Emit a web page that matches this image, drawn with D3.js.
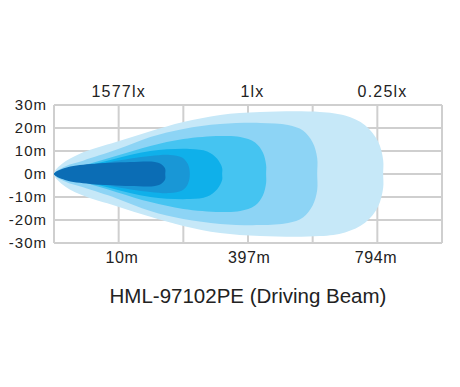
<!DOCTYPE html>
<meta charset="utf-8">
<script src="https://cdn.jsdelivr.net/npm/d3@7"></script>
<style>
body {margin: 0; background: #fff;}
svg text {font-family: "Liberation Sans", Arial, sans-serif; fill: #222;}
.grid line {stroke: #cfcfcf; stroke-width: 2;}
.ytick {font-size: 15px; text-anchor: end; letter-spacing: 1px;}
.lux {font-size: 16px; text-anchor: middle; letter-spacing: 1.2px;}
.dist {font-size: 16px; text-anchor: middle; letter-spacing: 0.6px;}
.title {font-size: 20.5px; text-anchor: middle;}
</style>
<div id="vis"></div>
<script>

// tick labels
var yTicks = [30, 20, 10, 0, -10, -20, -30];
var luxLabels = ["1577lx", "1lx", "0.25lx"];
var luxPos = [1, 3.07, 5.08];
var distLabels = ["10m", "397m", "794m"];
var distPos = [1.05, 3.02, 4.98];

// beam contours, upper half: [grid column, metres], outermost first
var beam025 = [[0,0],[0.12,4.3],[0.40,8.8],[0.97,14.0],[1.49,18.6],[2.0,22.6],[2.57,25.7],[3.19,27.0],[4.11,27.0],[4.5,25.4],[4.81,21.2],[5.01,14.2],[5.09,6.1],[5.09,0]];
var beam1 = [[0,0],[0.17,3.3],[0.45,5.8],[0.97,10.6],[1.49,16.1],[2.0,19.6],[2.57,21.7],[3.19,22.2],[3.62,21.3],[3.85,18.9],[4.0,13.7],[4.07,7.0],[4.07,0]];
var beam3 = [[0,0],[0.40,3.2],[0.97,7.9],[1.49,12.2],[2.0,15.2],[2.57,16.5],[2.88,16.1],[3.11,13.7],[3.23,9.3],[3.28,3.9],[3.28,0]];
var beam10 = [[0,0],[0.40,2.7],[0.87,6.1],[1.49,10.0],[2.1,10.9],[2.37,9.8],[2.52,6.7],[2.6,2.6],[2.6,0]];
var beam50 = [[0,0],[0.40,2.3],[0.87,5.2],[1.49,7.8],[1.79,8.3],[1.98,7.2],[2.07,4.3],[2.1,0]];
var beam1577 = [[0,0],[0.17,2.6],[0.56,4.3],[1.18,5.2],[1.56,5.2],[1.67,4.0],[1.72,2.2],[1.72,0]];

var beams = [beam025, beam1, beam3, beam10, beam50, beam1577];
var colors = ["#c6e8f8", "#8dd4f5", "#45c4f1", "#0fb0ea", "#1997d6", "#0b6db5"];

var w = 460, h = 387;
var x = d3.scaleLinear().domain([0, 6]).range([54, 442]);
var y = d3.scaleLinear().domain([-30, 30]).range([243, 105]);

var svg = d3.select("#vis").append("svg")
    .attr("width", w)
    .attr("height", h);

// grid
var grid = svg.append("g").attr("class", "grid");
grid.selectAll(".v")
    .data(d3.range(0, 7))
  .enter().append("line")
    .attr("x1", function(d) { return x(d); })
    .attr("x2", function(d) { return x(d); })
    .attr("y1", y(30))
    .attr("y2", y(-30));
grid.selectAll(".h")
    .data(yTicks)
  .enter().append("line")
    .attr("x1", x(0))
    .attr("x2", x(6))
    .attr("y1", function(d) { return y(d); })
    .attr("y2", function(d) { return y(d); });

// beam shapes, mirrored around 0m
var line = d3.line()
    .x(function(d) { return x(d[0]); })
    .y(function(d) { return y(d[1]); })
    .curve(d3.curveCatmullRomClosed.alpha(0.5));

function outline(pts) {
  var bottom = pts.slice(1, pts.length - 1).reverse().map(function(p) { return [p[0], -p[1]]; });
  return pts.concat(bottom);
}

svg.append("g").selectAll("path")
    .data(beams)
  .enter().append("path")
    .attr("d", function(d) { return line(outline(d)); })
    .attr("fill", function(d, i) { return colors[i]; });

// y labels
svg.selectAll(".ytick")
    .data(yTicks)
  .enter().append("text")
    .attr("class", "ytick")
    .attr("x", 47)
    .attr("y", function(d) { return y(d) + 5; })
    .text(function(d) { return d + "m"; });

// lux labels on top
svg.selectAll(".lux")
    .data(luxLabels)
  .enter().append("text")
    .attr("class", "lux")
    .attr("x", function(d, i) { return x(luxPos[i]); })
    .attr("y", 97)
    .text(function(d) { return d; });

// distance labels
svg.selectAll(".dist")
    .data(distLabels)
  .enter().append("text")
    .attr("class", "dist")
    .attr("x", function(d, i) { return x(distPos[i]); })
    .attr("y", 263)
    .text(function(d) { return d; });

svg.append("text")
    .attr("class", "title")
    .attr("x", 248)
    .attr("y", 303)
    .text("HML-97102PE (Driving Beam)");

</script>
